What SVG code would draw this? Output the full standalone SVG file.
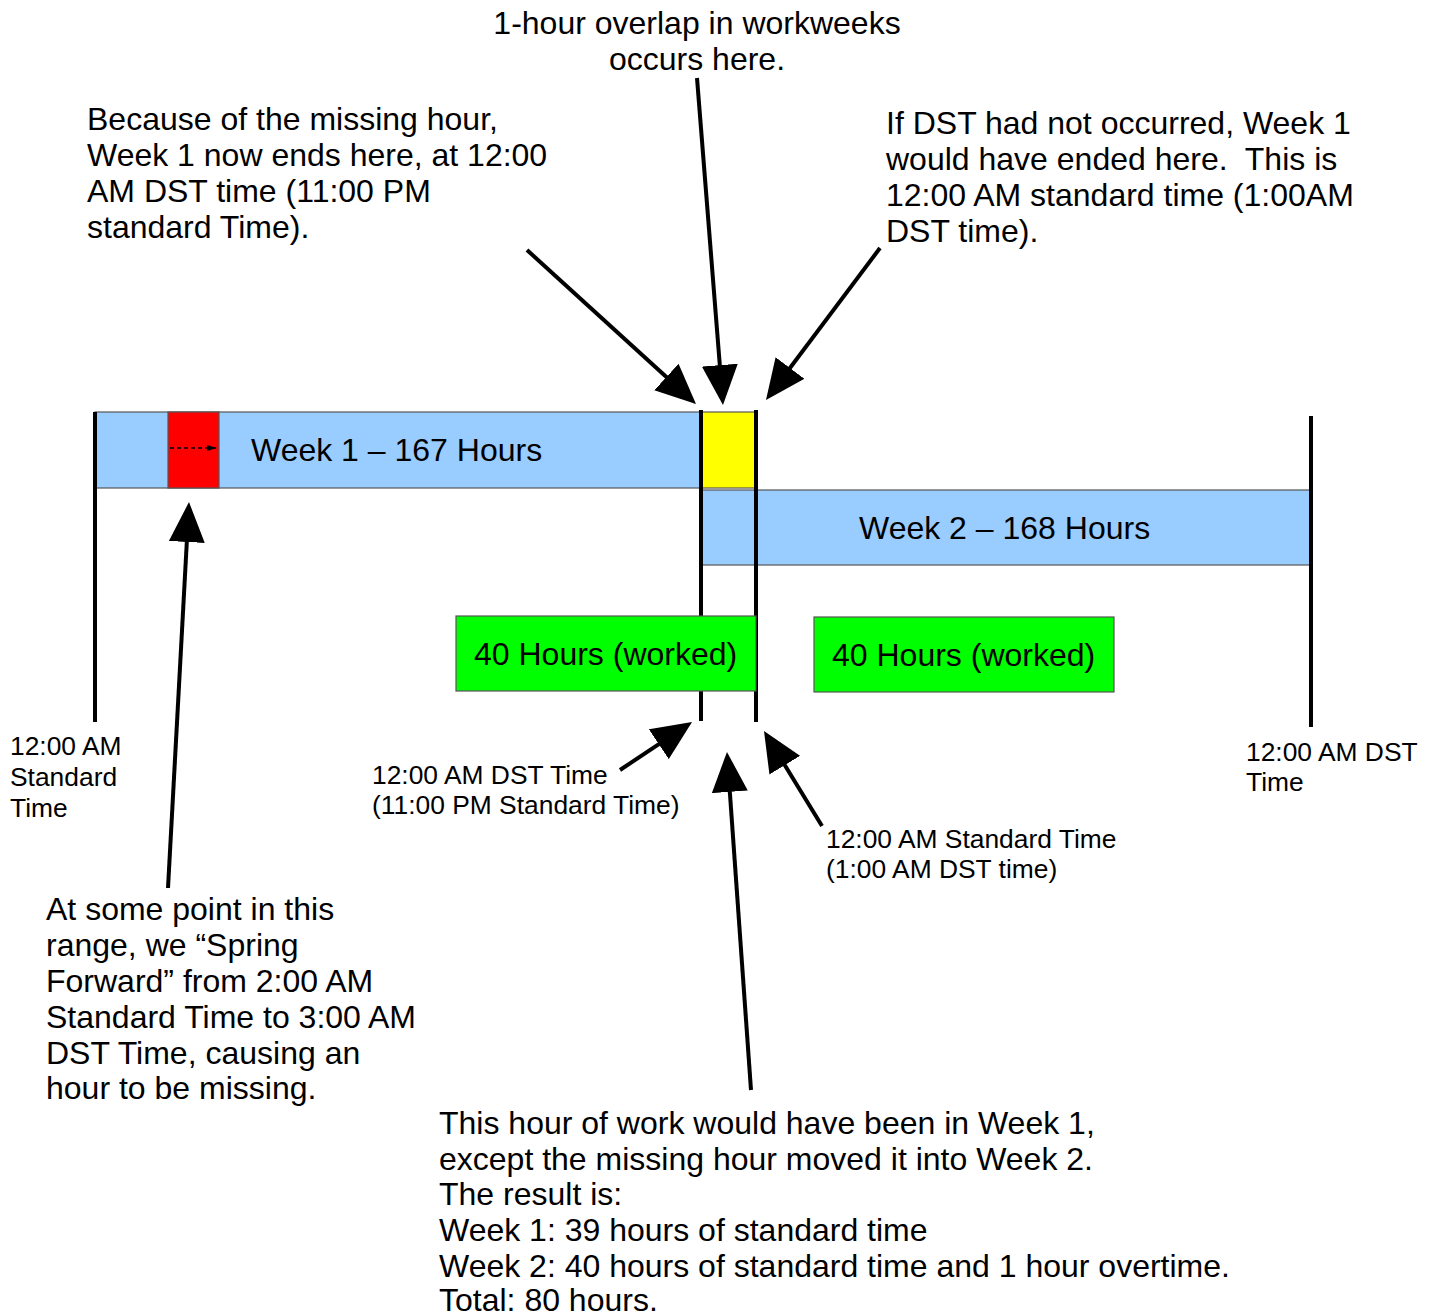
<svg xmlns="http://www.w3.org/2000/svg" width="1433" height="1316" viewBox="0 0 1433 1316">
<style>
text{font-family:"Liberation Sans",Arial,sans-serif;fill:#000;white-space:pre}
.big{font-size:32px}
.sm{font-size:26.4px}
.box{stroke:#555;stroke-width:1.2}
.vl{stroke:#000;stroke-width:4;fill:none}
.arr{stroke:#000;stroke-width:4;fill:none;marker-end:url(#ah)}
</style>
<defs>
<marker id="ah" viewBox="0 0 10 9" markerWidth="10" markerHeight="9" refX="5" refY="4.5" orient="auto" markerUnits="strokeWidth">
<path d="M0,0 L10,4.5 L0,9 z" fill="#000"/>
</marker>
<marker id="sah" viewBox="0 0 10 6" markerWidth="10" markerHeight="6" refX="10" refY="3" orient="auto" markerUnits="userSpaceOnUse">
<path d="M0,0 L10,3 L0,6 z" fill="#000"/>
</marker>
</defs>
<rect width="1433" height="1316" fill="#fff"/>

<g id="week1">
<rect class="box" x="95" y="412" width="605" height="76" fill="#99ccff"/>
<text class="big" x="251" y="461">Week 1 – 167 Hours</text>
</g>
<g id="missing-hour">
<rect class="box" x="168" y="412" width="51" height="76" fill="#ff0000"/>
<line x1="170" y1="448" x2="217" y2="448" stroke="#000" stroke-width="1.3" stroke-dasharray="4,3" marker-end="url(#sah)"/>
</g>
<g id="overlap">
<rect class="box" x="701" y="412" width="54" height="76" fill="#ffff00"/>
</g>
<g id="week2">
<rect class="box" x="701" y="490" width="610" height="75" fill="#99ccff"/>
<text class="big" x="859" y="539">Week 2 – 168 Hours</text>
</g>

<g id="connectors">
<line class="vl" x1="95" y1="412" x2="95" y2="722"/>
<line class="vl" x1="701" y1="410" x2="701" y2="721"/>
<line class="vl" x1="756" y1="410" x2="756" y2="722"/>
<line class="vl" x1="1311" y1="416" x2="1311" y2="727"/>
<line class="arr" x1="527" y1="250" x2="681.2" y2="390.5"/>
<line class="arr" x1="697" y1="78" x2="721.4" y2="385.1"/>
<line class="arr" x1="880" y1="248" x2="778" y2="384"/>
<line class="arr" x1="168" y1="888" x2="187.9" y2="522"/>
<line class="arr" x1="620" y1="770" x2="675.4" y2="733.1"/>
<line class="arr" x1="751" y1="1090" x2="728.4" y2="771.9"/>
<line class="arr" x1="822" y1="826" x2="774.4" y2="748.1"/>
</g>

<g id="worked1">
<rect class="box" x="456" y="616" width="300" height="75" fill="#00ff00"/>
<text class="big" x="474" y="665">40 Hours (worked)</text>
</g>
<g id="worked2">
<rect class="box" x="814" y="617" width="300" height="75" fill="#00ff00"/>
<text class="big" x="832" y="666">40 Hours (worked)</text>
</g>

<g id="label-overlap">
<text class="big" x="697" y="34" text-anchor="middle">1-hour overlap in workweeks</text>
<text class="big" x="697" y="70" text-anchor="middle">occurs here.</text>
</g>
<g id="label-missing">
<text class="big" x="87" y="130">Because of the missing hour,</text>
<text class="big" x="87" y="166">Week 1 now ends here, at 12:00</text>
<text class="big" x="87" y="202">AM DST time (11:00 PM</text>
<text class="big" x="87" y="238">standard Time).</text>
</g>
<g id="label-ifdst">
<text class="big" x="886" y="134">If DST had not occurred, Week 1</text>
<text class="big" x="886" y="170">would have ended here.  This is</text>
<text class="big" x="886" y="206">12:00 AM standard time (1:00AM</text>
<text class="big" x="886" y="242">DST time).</text>
</g>
<g id="label-start">
<text class="sm" x="10" y="755">12:00 AM</text>
<text class="sm" x="10" y="786">Standard</text>
<text class="sm" x="10" y="817">Time</text>
</g>
<g id="label-dst-end">
<text class="sm" x="372" y="784">12:00 AM DST Time</text>
<text class="sm" x="372" y="814">(11:00 PM Standard Time)</text>
</g>
<g id="label-std-end">
<text class="sm" x="826" y="848">12:00 AM Standard Time</text>
<text class="sm" x="826" y="878">(1:00 AM DST time)</text>
</g>
<g id="label-week2-end">
<text class="sm" x="1246" y="761">12:00 AM DST</text>
<text class="sm" x="1246" y="791">Time</text>
</g>
<g id="label-spring">
<text class="big" x="46" y="920">At some point in this</text>
<text class="big" x="46" y="956">range, we “Spring</text>
<text class="big" x="46" y="992">Forward” from 2:00 AM</text>
<text class="big" x="46" y="1028">Standard Time to 3:00 AM</text>
<text class="big" x="46" y="1064">DST Time, causing an</text>
<text class="big" x="46" y="1099">hour to be missing.</text>
</g>
<g id="label-result">
<text class="big" x="439" y="1134">This hour of work would have been in Week 1,</text>
<text class="big" x="439" y="1170">except the missing hour moved it into Week 2.</text>
<text class="big" x="439" y="1205">The result is:</text>
<text class="big" x="439" y="1241">Week 1: 39 hours of standard time</text>
<text class="big" x="439" y="1277">Week 2: 40 hours of standard time and 1 hour overtime.</text>
<text class="big" x="439" y="1311">Total: 80 hours.</text>
</g>
</svg>
